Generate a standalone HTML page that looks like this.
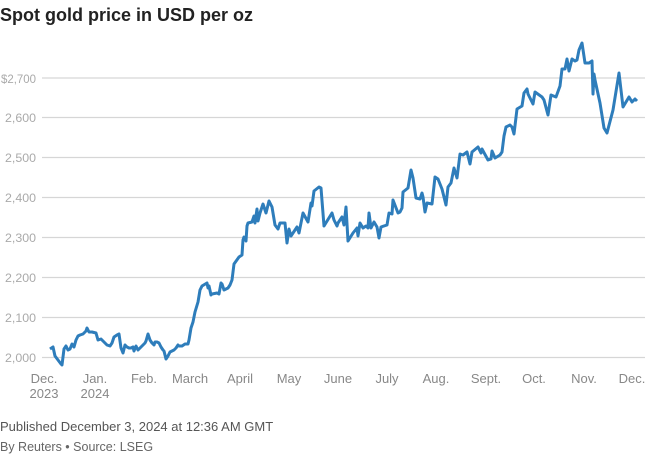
<!DOCTYPE html>
<html><head><meta charset="utf-8"><style>
body{margin:0;background:#fff;width:645px;height:454px;overflow:hidden;font-family:"Liberation Sans",sans-serif}
</style></head><body>
<svg width="645" height="454" xmlns="http://www.w3.org/2000/svg" font-family="Liberation Sans, sans-serif">
<text x="0" y="21" font-size="18" font-weight="bold" fill="#222">Spot gold price in USD per oz</text>
<g stroke="#d6d6d6" stroke-width="1.3">
<line x1="42" x2="645" y1="78" y2="78"/><line x1="42" x2="645" y1="117.5" y2="117.5"/>
<line x1="42" x2="645" y1="157.5" y2="157.5"/><line x1="42" x2="645" y1="197.5" y2="197.5"/>
<line x1="42" x2="645" y1="237.5" y2="237.5"/><line x1="42" x2="645" y1="277.5" y2="277.5"/>
<line x1="42" x2="645" y1="317.5" y2="317.5"/><line x1="42" x2="645" y1="357.5" y2="357.5"/>
</g>
<g font-size="12" fill="#aaa">
<text x="1" y="83" textLength="35" lengthAdjust="spacingAndGlyphs">$2,700</text>
<text x="5" y="122" textLength="31" lengthAdjust="spacingAndGlyphs">2,600</text>
<text x="5" y="162" textLength="31" lengthAdjust="spacingAndGlyphs">2,500</text>
<text x="5" y="202" textLength="31" lengthAdjust="spacingAndGlyphs">2,400</text>
<text x="5" y="242" textLength="31" lengthAdjust="spacingAndGlyphs">2,300</text>
<text x="5" y="282" textLength="31" lengthAdjust="spacingAndGlyphs">2,200</text>
<text x="5" y="322" textLength="31" lengthAdjust="spacingAndGlyphs">2,100</text>
<text x="5" y="362" textLength="31" lengthAdjust="spacingAndGlyphs">2,000</text>
</g>
<g font-size="13" fill="#888" text-anchor="middle">
<text x="44" y="383">Dec.</text><text x="44" y="398">2023</text>
<text x="95" y="383">Jan.</text><text x="95" y="398">2024</text>
<text x="144" y="383">Feb.</text><text x="190" y="383">March</text><text x="240" y="383">April</text>
<text x="289" y="383">May</text><text x="338" y="383">June</text><text x="387" y="383">July</text>
<text x="436" y="383">Aug.</text><text x="486" y="383">Sept.</text><text x="534" y="383">Oct.</text>
<text x="584" y="383">Nov.</text><text x="632" y="383">Dec.</text>
</g>
<polyline fill="none" stroke="#2e7dbb" stroke-width="3" stroke-linejoin="round" points="50,349 53,347 55,356 58,360 61,364 62,365 64,349 66,346 68,350 70,349 72,344 74,347 76,340 78,336 80,335 83,334 86,331 87,328 89,332 92,332 96,333 98,340 101,339 104,342 107,345 110,346 112,343 114,337 117,335 119,334 121,348 123,353 125,345 127,347 129,348 131,348 133,347 134,351 136,346 138,350 140,348 143,345 145,343 146,341 148,334 150,340 152,343 154,345 155,342 157,342 159,343 161,347 163,350 164,351 166,359 168,356 170,352 172,351 174,350 176,348 178,345 179,346 182,346 185,344 188,344 189,340 191,328 193,322 195,312 198,302 200,290 202,286 207,283 208,288 209,286 211,295 212,294 217,293 219,294 221,283 222,284 224,290 228,288 230,285 232,280 234,264 239,257 242,255 243,240 244,237 246,241 247,226 248,223 252,222 254,216 255,223 257,209 258,221 260,213 263,204 266,213 269,201 272,207 275,225 278,229 280,223 285,223 287,243 289,229 291,236 293,233 297,227 299,233 303,213 308,222 311,203 312,206 314,191 319,187 321,188 324,226 332,213 334,220 337,226 338,223 342,217 344,225 346,207 348,241 353,233 357,228 358,236 360,223 363,228 366,226 368,228 369,213 371,228 374,222 377,227 379,238 381,227 387,225 389,213 392,214 393,200 398,213 400,212 402,208 403,192 408,188 411,170 413,178 416,198 420,199 422,193 423,197 425,212 427,203 432,204 435,177 438,179 442,189 446,205 448,187 451,183 454,168 457,178 460,154 463,155 467,152 470,164 472,152 478,147 481,153 482,149 488,160 491,159 492,151 495,158 500,155 502,152 504,136 506,127 510,125 512,127 514,134 517,109 522,106 524,93 527,89 528,94 533,104 535,92 542,97 544,100 548,115 551,95 556,97 560,86 562,69 565,69 567,59 569,71 572,59 575,61 577,60 579,50 582,43 585,63 589,63 592,61 593,94 594,74 595,80 600,103 604,128 607,133 613,110 619,73 623,107 629,97 632,102 635,99 637,101"/>
<text x="0" y="431" font-size="13" fill="#555">Published December 3, 2024 at 12:36 AM GMT</text>
<text x="0" y="451" font-size="12.5" fill="#666">By Reuters • Source: LSEG</text>
</svg>
</body></html>
